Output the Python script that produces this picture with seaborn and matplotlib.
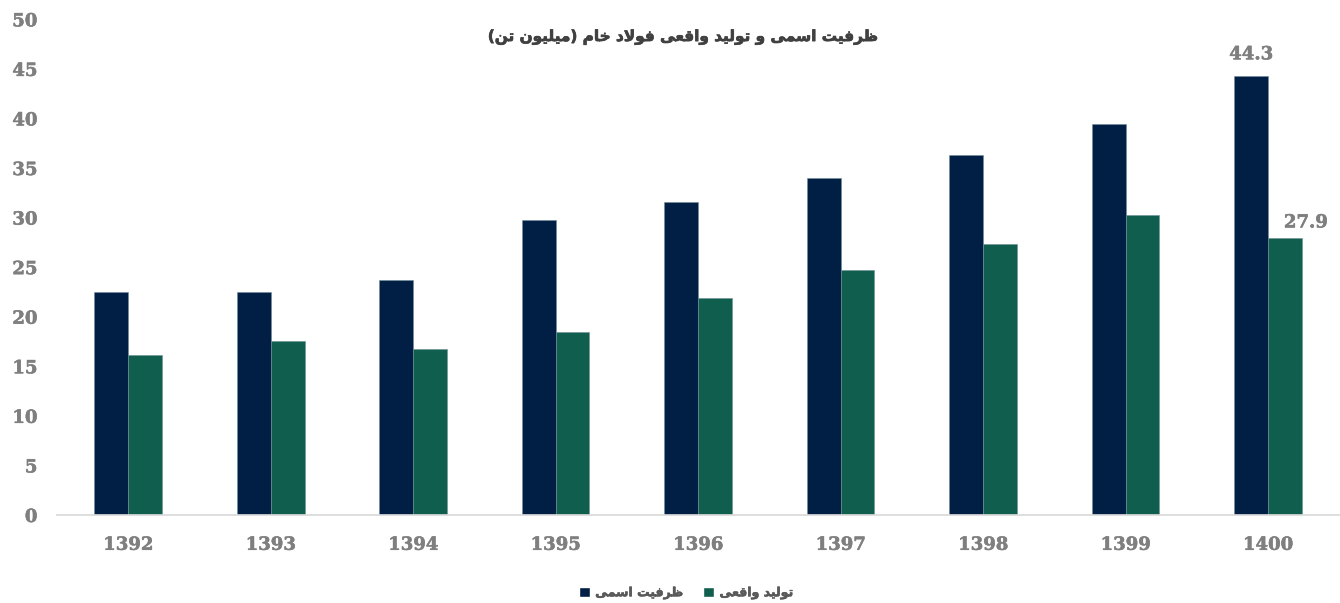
import seaborn as sns
import numpy as np
import matplotlib.pyplot as plt
import matplotlib.patheffects as pe
import pandas as pd
from matplotlib.patches import Patch

# chart data
years = ['1392', '1393', '1394', '1395', '1396', '1397', '1398', '1399', '1400']
capacity = [22.5, 22.5, 23.7, 29.8, 31.6, 34.0, 36.3, 39.4, 44.3]
production = [16.1, 17.5, 16.7, 18.5, 21.9, 24.7, 27.3, 30.3, 27.9]
series_names = ['ظرفیت اسمی', 'تولید واقعی']
title_text = 'ظرفیت اسمی و تولید واقعی فولاد خام (میلیون تن)'
y_ticks = list(range(0, 51, 5))

navy = '#011f45'
green = '#0f5e4e'
grey = '#7f7f7f'

# small persian shaper: matplotlib draws letters unjoined and left to right
forms = {
    'ا': ('\uFE8D', '\uFE8E', None, None),
    'ت': ('\uFE95', '\uFE96', '\uFE97', '\uFE98'),
    'خ': ('\uFEA5', '\uFEA6', '\uFEA7', '\uFEA8'),
    'د': ('\uFEA9', '\uFEAA', None, None),
    'ر': ('\uFEAD', '\uFEAE', None, None),
    'س': ('\uFEB1', '\uFEB2', '\uFEB3', '\uFEB4'),
    'ظ': ('\uFEC5', '\uFEC6', '\uFEC7', '\uFEC8'),
    'ع': ('\uFEC9', '\uFECA', '\uFECB', '\uFECC'),
    'ف': ('\uFED1', '\uFED2', '\uFED3', '\uFED4'),
    'ق': ('\uFED5', '\uFED6', '\uFED7', '\uFED8'),
    'ل': ('\uFEDD', '\uFEDE', '\uFEDF', '\uFEE0'),
    'م': ('\uFEE1', '\uFEE2', '\uFEE3', '\uFEE4'),
    'ن': ('\uFEE5', '\uFEE6', '\uFEE7', '\uFEE8'),
    'و': ('\uFEED', '\uFEEE', None, None),
    'ی': ('\uFBFC', '\uFBFD', '\uFBFE', '\uFBFF'),
    'لا': ('\uFEFB', '\uFEFC', None, None),
}
mirror = {'(': ')', ')': '('}


def shape_fa(s):
    # split into units, lam+alef is one unit
    units = []
    i = 0
    while i < len(s):
        if s[i:i + 2] == 'لا':
            units.append('لا')
            i += 2
        else:
            units.append(s[i])
            i += 1
    out = []
    for k, u in enumerate(units):
        if u not in forms:
            out.append(mirror.get(u, u))
            continue
        prev = units[k - 1] if k > 0 else None
        nxt = units[k + 1] if k + 1 < len(units) else None
        join_prev = prev in forms and forms[prev][2] is not None
        join_next = nxt in forms and forms[u][2] is not None
        iso, fin, ini, med = forms[u]
        if join_prev and join_next:
            out.append(med)
        elif join_prev:
            out.append(fin)
        elif join_next:
            out.append(ini)
        else:
            out.append(iso)
    return ''.join(out[::-1])


df = pd.DataFrame({
    'year': years * 2,
    'value': capacity + production,
    'series': [series_names[0]] * len(years) + [series_names[1]] * len(years),
})

sns.set_theme(style='white')
plt.rcParams['font.family'] = ['DejaVu Sans']

fig = plt.figure(figsize=(13.4, 6.03), dpi=100)
ax = fig.add_axes([0.0425, 0.146, 0.957, 0.822])

sns.barplot(data=df, x='year', y='value', hue='series', palette=[navy, green],
            width=0.475, saturation=1, ax=ax, legend=False,
            edgecolor='#6f8f99', linewidth=0.4)

# slightly heavier strokes for the numbers
heavy_grey = [pe.withStroke(linewidth=0.4, foreground=grey)]
tick_font = dict(fontfamily='DejaVu Serif', fontweight='bold', fontsize=13, color=grey)
ax.set_ylim(0, 50)
ax.set_xlim(-0.5, 8.5)
ax.set_yticks(y_ticks, [str(t) for t in y_ticks], **tick_font)
ax.set_xticks(range(len(years)), years, **tick_font)
for lab in ax.get_xticklabels() + ax.get_yticklabels():
    lab.set_path_effects(heavy_grey)
ax.set_xlabel('')
ax.set_ylabel('')
sns.despine(ax=ax, left=True)
ax.spines['bottom'].set_color('#d9d9d9')
ax.tick_params(axis='both', length=0)
ax.tick_params(axis='y', pad=14)
ax.tick_params(axis='x', pad=15)

# value labels on the last year
last = len(years) - 1
offsets = [(0, 9), (15, 5)]
for cont, vals, off in zip(ax.containers, [capacity, production], offsets):
    bar = cont.patches[last]
    ax.annotate(f'{vals[last]}', (bar.get_x() + bar.get_width() / 2, bar.get_height()),
                xytext=off, textcoords='offset points', ha='center', va='bottom',
                path_effects=heavy_grey, **tick_font)

fig.text(0.509, 1 - 37 / 603, shape_fa(title_text), ha='center', va='center',
         fontsize=11, fontweight='bold', color='#404040',
         path_effects=[pe.withStroke(linewidth=0.5, foreground='#404040')])

handles = [Patch(facecolor=navy), Patch(facecolor=green)]
leg = fig.legend(handles, [shape_fa(n) for n in series_names], loc='center',
                 bbox_to_anchor=(0.512, 0.017), ncol=2, frameon=False,
                 prop={'size': 9, 'weight': 'bold'}, labelcolor='#595959',
                 handlelength=0.9, handleheight=0.9, handletextpad=0.4, columnspacing=1.6)
for t in leg.get_texts():
    t.set_path_effects([pe.withStroke(linewidth=0.4, foreground='#595959')])

fig.savefig('out.png', dpi=100, facecolor='white')
